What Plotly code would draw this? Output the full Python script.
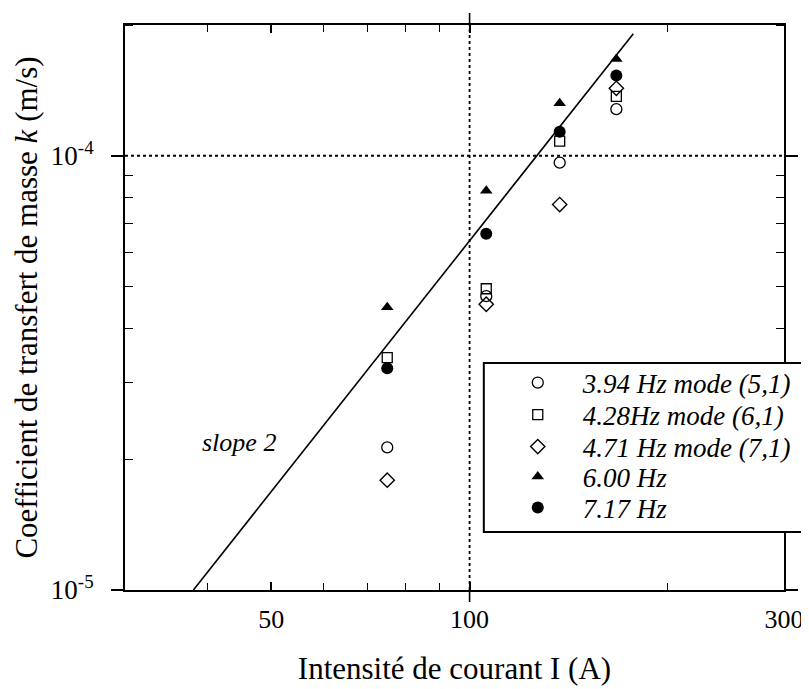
import math
import plotly.graph_objects as go

# ---- data ----
current_A = [75, 106, 137, 167]
k_394 = [2.13e-5, 4.75e-5, 9.64e-5, 1.28e-4]   # 3.94 Hz mode (5,1)
k_428 = [3.43e-5, 4.94e-5, 1.08e-4, 1.37e-4]   # 4.28Hz mode (6,1)
k_471 = [1.79e-5, 4.55e-5, 7.72e-5, 1.43e-4]   # 4.71 Hz mode (7,1)
k_600 = [4.48e-5, 8.31e-5, 1.32e-4, 1.67e-4]   # 6.00 Hz
k_717 = [3.24e-5, 6.61e-5, 1.135e-4, 1.53e-4]  # 7.17 Hz

slope_I = [38.1, 177.2]
slope_k = [1.0e-5, 1.91e-4]

series_names = ["3.94 Hz mode (5,1)", "4.28Hz mode (6,1)", "4.71 Hz mode (7,1)",
                "6.00 Hz", "7.17 Hz"]
x_tick_vals = [50, 100, 300]
x_tick_text = ["50", "100", "300"]
x_minor_vals = [40, 60, 70, 80, 90, 200]
y_tick_vals = [1e-5, 1e-4]
y_tick_text = ["10<sup>-5</sup>", "10<sup>-4</sup>"]
y_minor_vals = [2e-5, 3e-5, 4e-5, 5e-5, 6e-5, 7e-5, 8e-5, 9e-5, 2e-4]
x_range = [30, 300]
y_range = [1e-5, 2e-4]

FONT = "Liberation Serif"
OFF = 8                      # page offset from the default body margin
W, H = 809 - OFF, 689 - OFF
ML, MR, MT, MB = 125 - OFF, 21, 25 - OFF, 99


def px_to_paper_x(page_px):
    return (page_px - OFF - ML) / (W - ML - MR)


def px_to_paper_y(page_py):
    return (H - MB - (page_py - OFF)) / (H - MT - MB)


fig = go.Figure()

# fitted slope-2 line
fig.add_trace(go.Scatter(x=slope_I, y=slope_k, mode="lines",
                         line=dict(color="black", width=1.6),
                         showlegend=False, hoverinfo="skip"))

styles = [
    dict(symbol="circle-open", size=11, line=dict(width=1.3, color="black")),
    dict(symbol="square-open", size=10, line=dict(width=1.3, color="black")),
    dict(symbol="diamond-open", size=11, line=dict(width=1.4, color="black")),
    dict(symbol="triangle-up", size=11, line=dict(width=0, color="black")),
    dict(symbol="circle", size=12, line=dict(width=0, color="black")),
]
series_vals = [k_394, k_428, k_471, k_600, k_717]
legend_ids = ["legend", "legend2", "legend3", "legend4", "legend5"]
for name, vals, st, lg in zip(series_names, series_vals, styles, legend_ids):
    fig.add_trace(go.Scatter(
        x=current_A, y=vals, mode="markers", name="<i>" + name + "</i>",
        marker=dict(color="black", **st), legend=lg))

row_px = [383, 415, 447, 477, 508]
legend_left_px = 495
legend_common = dict(font=dict(family=FONT, size=27, color="black"),
                     bgcolor="rgba(0,0,0,0)", borderwidth=0,
                     xanchor="left", yanchor="middle", itemwidth=80,
                     tracegroupgap=0)
layout_legends = {}
for lg, py in zip(legend_ids, row_px):
    layout_legends[lg] = dict(x=px_to_paper_x(legend_left_px), y=px_to_paper_y(py),
                              **legend_common)

# legend frame
fig.add_shape(type="rect", xref="paper", yref="paper",
              x0=px_to_paper_x(486), x1=px_to_paper_x(822),
              y0=px_to_paper_y(532), y1=px_to_paper_y(363),
              line=dict(color="black", width=2), fillcolor="white", layer="above")

# dotted reference lines
fig.add_shape(type="line", xref="x", yref="paper", x0=100, x1=100, y0=0, y1=1,
              line=dict(color="black", width=1.8, dash="dot"))
fig.add_shape(type="line", xref="paper", yref="y", x0=0, x1=1, y0=1e-4, y1=1e-4,
              line=dict(color="black", width=1.8, dash="dot"))
# outer part of the crossing tick at 100
plot_h = H - MT - MB
fig.add_shape(type="line", xref="x", yref="paper", x0=100, x1=100,
              y0=-12 / plot_h, y1=0, line=dict(color="black", width=1.6))
fig.add_shape(type="line", xref="x", yref="paper", x0=100, x1=100,
              y0=1, y1=1 + 12 / plot_h, line=dict(color="black", width=1.6))

fig.add_annotation(x=math.log10(44.7), y=math.log10(2.19e-5), xref="x", yref="y",
                   text="<i>slope 2</i>", showarrow=False,
                   font=dict(family=FONT, size=26, color="black"))

axis_common = dict(type="log", showgrid=False, zeroline=False, showline=True,
                   linecolor="black", linewidth=2, mirror="ticks",
                   tickcolor="black", tickwidth=1.6)

fig.update_layout(
    width=W, height=H,
    margin=dict(l=ML, r=MR, t=MT, b=MB),
    paper_bgcolor="white", plot_bgcolor="white",
    font=dict(family=FONT, color="black"),
    xaxis=dict(range=[math.log10(x_range[0]), math.log10(x_range[1])],
               tickmode="array", tickvals=x_tick_vals, ticktext=x_tick_text,
               ticks="inside", ticklen=8, ticklabelstandoff=5,
               tickfont=dict(family=FONT, size=26, color="black"),
               minor=dict(tickmode="array", tickvals=x_minor_vals, ticks="inside",
                          ticklen=7, tickcolor="black", tickwidth=1.4, showgrid=False),
               title=dict(text="Intensité de courant I (A)",
                          font=dict(family=FONT, size=31, color="black"), standoff=24),
               automargin=False, **axis_common),
    yaxis=dict(range=[math.log10(y_range[0]), math.log10(y_range[1])],
               tickmode="array", tickvals=y_tick_vals, ticktext=y_tick_text,
               ticks="outside", ticklen=12, ticklabelstandoff=12,
               tickfont=dict(family=FONT, size=27, color="black"),
               minor=dict(tickmode="array", tickvals=y_minor_vals, ticks="inside",
                          ticklen=8, tickcolor="black", tickwidth=1.4, showgrid=False),
               title=dict(text="Coefficient de transfert de masse <i>k</i> (m/s)",
                          font=dict(family=FONT, size=31, color="black"), standoff=4),
               automargin=False, **axis_common),
    **layout_legends,
)

fig.write_html("out.html")
